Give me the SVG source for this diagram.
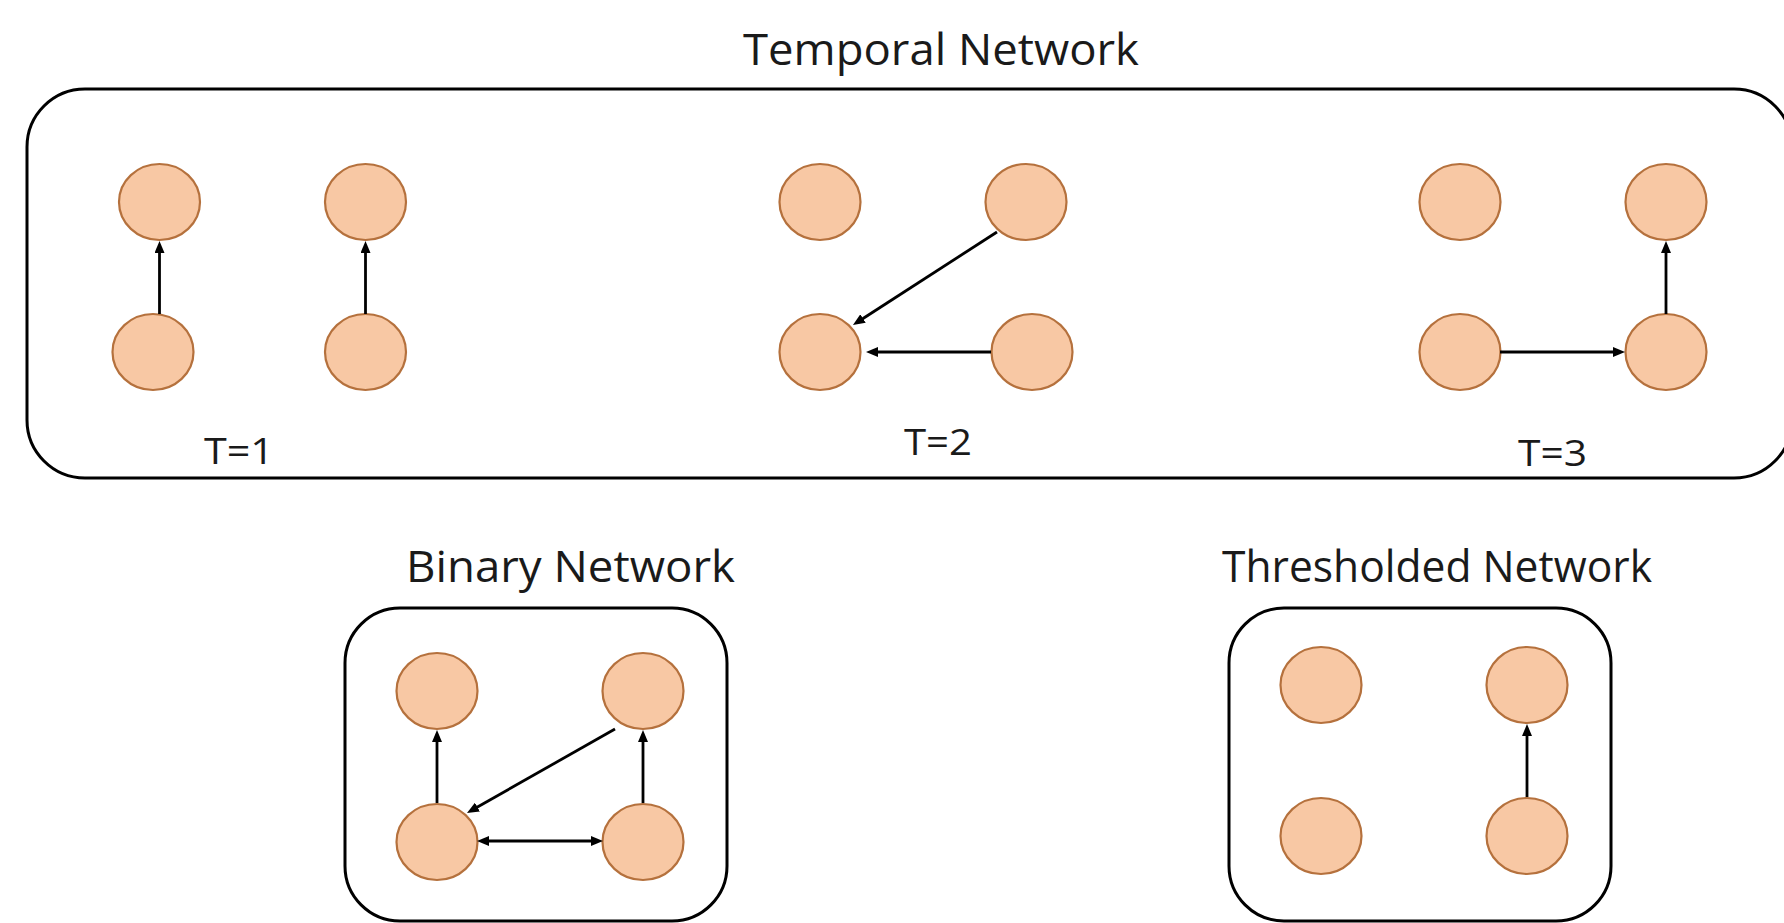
<svg xmlns="http://www.w3.org/2000/svg" width="1784" height="923" viewBox="0 0 1784 923">
<defs>
<marker id="ah" viewBox="0 0 12 10" markerWidth="12" markerHeight="10" refX="6" refY="5" orient="auto-start-reverse" markerUnits="userSpaceOnUse">
<path d="M0,0 L12,5 L0,10 z" fill="#000"/>
</marker>
</defs>
<style>
.box{fill:#fff;stroke:#000;stroke-width:3}
.n{fill:#F8C8A4;stroke:#B5713D;stroke-width:2.2}
.e{stroke:#000;stroke-width:2.8;fill:none;marker-end:url(#ah)}
.t{font-family:"Open Sans","Noto Sans",sans-serif;fill:#1a1a1a}
.title{font-size:44px}
.lbl{font-size:37px}
</style>
<rect width="1784" height="923" fill="#fff"/>
<g id="temporal">
<rect class="box" x="27" y="89" width="1765" height="389" rx="58" ry="58"/>
<text class="t title" x="743" y="65" textLength="396" lengthAdjust="spacingAndGlyphs">Temporal Network</text>
<text class="t lbl" x="204" y="464" textLength="70" lengthAdjust="spacingAndGlyphs">T=1</text>
<text class="t lbl" x="904" y="455" textLength="68" lengthAdjust="spacingAndGlyphs">T=2</text>
<text class="t lbl" x="1518" y="466" textLength="69" lengthAdjust="spacingAndGlyphs">T=3</text>
</g>
<g id="binary">
<rect class="box" x="345" y="608" width="382" height="313" rx="55" ry="55"/>
<text class="t title" x="406" y="582" textLength="329" lengthAdjust="spacingAndGlyphs">Binary Network</text>
</g>
<g id="thresholded">
<rect class="box" x="1229" y="608" width="382" height="313" rx="55" ry="55"/>
<text class="t title" x="1222" y="582" textLength="430" lengthAdjust="spacingAndGlyphs">Thresholded Network</text>
</g>
<g id="t1-nodes">
<ellipse id="t1a" class="n" cx="159.5" cy="202" rx="40.5" ry="38"/>
<ellipse id="t1b" class="n" cx="153" cy="352" rx="40.5" ry="38"/>
<ellipse id="t1c" class="n" cx="365.5" cy="202" rx="40.5" ry="38"/>
<ellipse id="t1d" class="n" cx="365.5" cy="352" rx="40.5" ry="38"/>
</g>
<g id="t2-nodes">
<ellipse id="t2a" class="n" cx="820" cy="202" rx="40.5" ry="38"/>
<ellipse id="t2b" class="n" cx="1026" cy="202" rx="40.5" ry="38"/>
<ellipse id="t2c" class="n" cx="820" cy="352" rx="40.5" ry="38"/>
<ellipse id="t2d" class="n" cx="1032" cy="352" rx="40.5" ry="38"/>
</g>
<g id="t3-nodes">
<ellipse id="t3a" class="n" cx="1460" cy="202" rx="40.5" ry="38"/>
<ellipse id="t3b" class="n" cx="1666" cy="202" rx="40.5" ry="38"/>
<ellipse id="t3c" class="n" cx="1460" cy="352" rx="40.5" ry="38"/>
<ellipse id="t3d" class="n" cx="1666" cy="352" rx="40.5" ry="38"/>
</g>
<g id="binary-nodes">
<ellipse id="ba" class="n" cx="437" cy="691" rx="40.5" ry="38"/>
<ellipse id="bb" class="n" cx="643" cy="691" rx="40.5" ry="38"/>
<ellipse id="bc" class="n" cx="437" cy="842" rx="40.5" ry="38"/>
<ellipse id="bd" class="n" cx="643" cy="842" rx="40.5" ry="38"/>
</g>
<g id="thr-nodes">
<ellipse id="ha" class="n" cx="1321" cy="685" rx="40.5" ry="38"/>
<ellipse id="hb" class="n" cx="1527" cy="685" rx="40.5" ry="38"/>
<ellipse id="hc" class="n" cx="1321" cy="836" rx="40.5" ry="38"/>
<ellipse id="hd" class="n" cx="1527" cy="836" rx="40.5" ry="38"/>
</g>
<g id="connectors">
<line class="e" x1="159.5" y1="314" x2="159.5" y2="247"/>
<line class="e" x1="365.5" y1="314" x2="365.5" y2="247"/>
<line class="e" x1="997" y1="232" x2="858" y2="321.7"/>
<line class="e" x1="991" y1="352" x2="872" y2="352"/>
<line class="e" x1="1500" y1="352" x2="1619" y2="352"/>
<line class="e" x1="1666" y1="314" x2="1666" y2="247"/>
<line class="e" x1="437" y1="803" x2="437" y2="736"/>
<line class="e" x1="643" y1="803" x2="643" y2="736"/>
<line class="e" x1="615" y1="729" x2="472.2" y2="810"/>
<line class="e" x1="483" y1="841" x2="597" y2="841" style="marker-start:url(#ah)"/>
<line class="e" x1="1527" y1="797" x2="1527" y2="730"/>
</g>
</svg>
